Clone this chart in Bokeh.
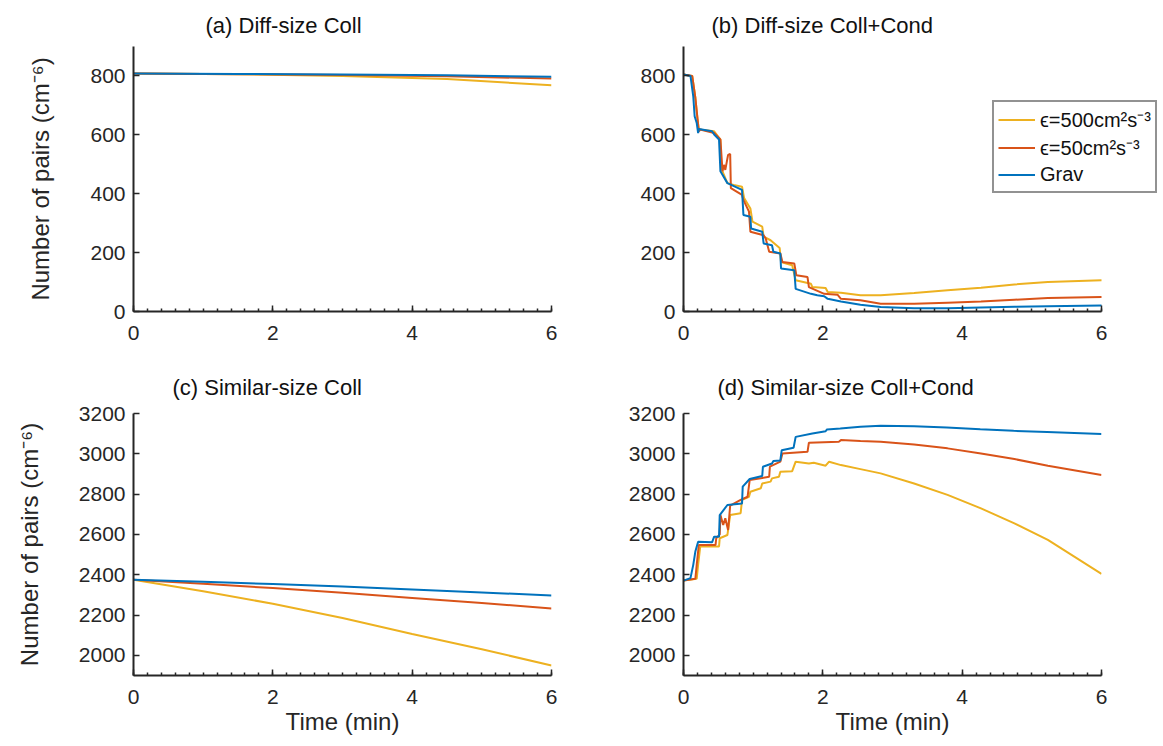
from bokeh.plotting import figure
from bokeh.layouts import column, row
from bokeh.models import Range1d, FixedTicker, Legend, LegendItem
from bokeh.embed import file_html
from bokeh.resources import INLINE

# ---------------- data ----------------
# (a) Diff-size Coll
a_t = [0, 1.5, 3, 4.5, 6]
a_e500 = [808, 806, 800, 790, 768]
a_e50 = [808, 806, 803, 799, 791]
a_grav = [808, 807, 805, 802, 797]

# (b) Diff-size Coll+Cond
b_e500_t = [0.0, 0.125, 0.17, 0.20, 0.22, 0.44, 0.53, 0.54, 0.63, 0.72, 0.84, 0.87, 0.96, 0.99, 1.13, 1.15, 1.25, 1.38,
            1.40, 1.56, 1.61, 1.83, 1.85, 2.04, 2.07, 2.26, 2.54, 2.83, 3.31, 3.79, 4.27, 4.75, 5.23, 6.0]
b_e500 = [805, 800, 726, 655, 618, 612, 584, 487, 436, 430, 424, 385, 350, 305, 288, 254, 242, 216,
          168, 157, 106, 94, 83, 80, 66, 64, 55, 55, 63, 72, 81, 92, 100, 106]
b_e50_t = [0.0, 0.125, 0.17, 0.20, 0.22, 0.24, 0.44, 0.53, 0.56, 0.58, 0.60, 0.64, 0.67, 0.68, 0.84, 0.86, 0.94, 0.96,
           1.15, 1.18, 1.23, 1.39, 1.42, 1.59, 1.62, 1.78, 1.80, 2.02, 2.21, 2.26, 2.54, 2.83, 3.31, 3.79, 4.27, 4.75,
           5.23, 6.0]
b_e50 = [805, 800, 726, 658, 612, 618, 606, 584, 476, 498, 481, 532, 535, 419, 396, 379, 339, 271,
         259, 248, 203, 197, 168, 163, 123, 117, 83, 60, 57, 43, 38, 26, 26, 30, 34, 40, 46, 49]
b_grav_t = [0.0, 0.10, 0.14, 0.16, 0.19, 0.21, 0.22, 0.41, 0.44, 0.51, 0.53, 0.63, 0.84, 0.86, 0.96, 0.97, 1.13, 1.15,
            1.27, 1.29, 1.39, 1.40, 1.59, 1.61, 1.83, 1.92, 2.02, 2.07, 2.26, 2.54, 2.83, 3.31, 3.79, 4.27, 4.75,
            5.23, 6.0]
b_grav = [805, 800, 731, 663, 640, 606, 620, 612, 601, 584, 476, 436, 413, 328, 322, 282, 271, 231,
          225, 203, 197, 146, 140, 77, 60, 55, 52, 43, 34, 23, 15, 11, 11, 14, 16, 18, 20]

# (c) Similar-size Coll
c_t = [0, 1, 2, 3, 4, 5, 6]
c_e500 = [2375, 2318, 2256, 2185, 2106, 2030, 1950]
c_e50 = [2375, 2355, 2334, 2310, 2285, 2260, 2233]
c_grav = [2375, 2365, 2354, 2341, 2327, 2312, 2297]

# (d) Similar-size Coll+Cond
d_e500_t = [0.0, 0.19, 0.21, 0.24, 0.51, 0.52, 0.63, 0.67, 0.82, 0.84, 0.94, 0.96, 1.11, 1.13, 1.25, 1.27, 1.37, 1.39,
            1.56, 1.61, 1.80, 1.87, 2.04, 2.09, 2.26, 2.54, 2.83, 3.31, 3.79, 4.27, 4.75, 5.23, 6.0]
d_e500 = [2371, 2380, 2450, 2540, 2540, 2581, 2597, 2696, 2705, 2771, 2787, 2812, 2829, 2853, 2862, 2878, 2886, 2911,
          2914, 2961, 2952, 2956, 2941, 2961, 2944, 2924, 2903, 2853, 2796, 2729, 2655, 2573, 2404]
d_e50_t = [0.0, 0.17, 0.19, 0.22, 0.46, 0.47, 0.52, 0.53, 0.57, 0.60, 0.64, 0.67, 0.82, 0.92, 0.95, 1.23, 1.24, 1.39,
           1.42, 1.78, 1.80, 2.23, 2.26, 2.54, 2.83, 3.31, 3.79, 4.27, 4.75, 5.23, 6.0]
d_e50 = [2371, 2380, 2450, 2548, 2548, 2581, 2600, 2696, 2647, 2680, 2622, 2743, 2771, 2787, 2870, 2886, 2936, 2961,
         3002, 3010, 3055, 3060, 3068, 3063, 3060, 3046, 3027, 3002, 2974, 2941, 2895]
d_grav_t = [0.0, 0.10, 0.14, 0.17, 0.21, 0.41, 0.44, 0.51, 0.52, 0.63, 0.84, 0.85, 0.95, 1.13, 1.14, 1.27, 1.29, 1.39,
            1.41, 1.58, 1.61, 1.85, 2.04, 2.06, 2.25, 2.54, 2.83, 3.31, 3.78, 4.26, 4.74, 5.22, 6.0]
d_grav = [2371, 2383, 2449, 2515, 2564, 2561, 2589, 2589, 2696, 2746, 2754, 2837, 2875, 2890, 2936, 2952, 2964, 2967,
          3018, 3030, 3084, 3101, 3112, 3121, 3126, 3134, 3139, 3137, 3131, 3122, 3114, 3108, 3098]

labels = ["\u03f5=500cm\u00b2s\u207b\u00b3", "\u03f5=50cm\u00b2s\u207b\u00b3", "Grav"]
colors = ["#EDB120", "#D95319", "#0072BD"]
x_ticks = [0, 2, 4, 6]
x_minor = [i * 0.2 for i in range(31)]
y_ticks_top = [0, 200, 400, 600, 800]
y_ticks_bot = [2000, 2200, 2400, 2600, 2800, 3000, 3200]

FONT = "Liberation Sans"
DARK = "#262626"
FW = 418          # width of the 0..6 span in px
FW_B = 474        # panel (b) frame is wider to hold the legend


def make(title, title_offset, yr, yticks, series, ylabel, xlabel, left, right, top, bottom, fh, fw, tstand):
    p = figure(output_backend="svg", toolbar_location=None,
               frame_width=fw, frame_height=fh,
               min_border_left=left, min_border_right=right,
               min_border_top=top, min_border_bottom=bottom,
               x_range=Range1d(0, 6.0 * fw / FW), y_range=Range1d(*yr))
    p.title.text = title
    p.title.align = "left"
    p.title.offset = title_offset
    p.title.text_font = FONT
    p.title.text_font_size = "22px"
    p.title.text_font_style = "normal"
    p.title.text_color = "#111111"
    p.title.standoff = tstand
    p.outline_line_color = None
    p.xgrid.visible = False
    p.ygrid.visible = False
    p.background_fill_color = "white"
    p.border_fill_color = "white"

    p.xaxis.ticker = FixedTicker(ticks=x_ticks, minor_ticks=x_minor)
    p.xaxis.bounds = (0, 6)
    p.yaxis.ticker = FixedTicker(ticks=yticks)
    for ax in (p.xaxis[0], p.yaxis[0]):
        ax.axis_line_color = DARK
        ax.axis_line_width = 2
        ax.major_tick_line_color = DARK
        ax.major_tick_line_width = 1.5
        ax.major_tick_in = 6
        ax.major_tick_out = 0
        ax.major_label_text_font = FONT
        ax.major_label_text_font_size = "21px"
        ax.major_label_text_color = DARK
        ax.axis_label_text_font = FONT
        ax.axis_label_text_font_size = "24px"
        ax.axis_label_text_font_style = "normal"
        ax.axis_label_text_color = DARK
    p.xaxis.minor_tick_line_color = DARK
    p.xaxis.minor_tick_line_width = 1.5
    p.xaxis.minor_tick_in = 3
    p.xaxis.minor_tick_out = 0
    p.yaxis.minor_tick_line_color = None
    p.xaxis.major_label_standoff = 14
    p.yaxis.major_label_standoff = 8
    if ylabel:
        p.yaxis.axis_label = ylabel
        p.yaxis.axis_label_standoff = 33
    if xlabel:
        p.xaxis.axis_label = xlabel
        p.xaxis.axis_label_standoff = 1

    rends = []
    for (t, v), c in zip(series, colors):
        rends.append(p.line(t, v, line_color=c, line_width=2))
    return p, rends


YL = "Number of pairs (cm\u207b\u2076)"
pa, _ = make("(a) Diff-size Coll", 72, (0, 900), y_ticks_top,
             [(a_t, a_e500), (a_t, a_e50), (a_t, a_grav)], YL, None, 133, 17, 46, 43, 265, FW, 17)
pb, rb = make("(b) Diff-size Coll+Cond", 28, (0, 900), y_ticks_top,
              [(b_e500_t, b_e500), (b_e50_t, b_e50), (b_grav_t, b_grav)], None, None, 115, 0, 46, 43, 265, FW_B, 17)
pc, _ = make("(c) Similar-size Coll", 39, (1900, 3200), y_ticks_bot,
             [(c_t, c_e500), (c_t, c_e50), (c_t, c_grav)], YL, "Time (min)", 133, 17, 59, 60, 262, FW, 28)
pd, _ = make("(d) Similar-size Coll+Cond", 34, (1900, 3200), y_ticks_bot,
             [(d_e500_t, d_e500), (d_e50_t, d_e50), (d_grav_t, d_grav)], None, "Time (min)", 115, 57, 59, 60, 262, FW, 28)

legend = Legend(items=[LegendItem(label=l, renderers=[r]) for l, r in zip(labels, rb)],
                location=(309, 118))
legend.label_text_font = FONT
legend.label_text_font_size = "20px"
legend.label_text_color = "#111111"
legend.label_height = 25
legend.glyph_height = 25
legend.glyph_width = 37
legend.label_standoff = 5
legend.spacing = 1
legend.padding = 4
legend.margin = 0
legend.border_line_color = DARK
legend.border_line_width = 2
legend.background_fill_color = "white"
legend.background_fill_alpha = 1
pb.add_layout(legend)

layout = column(row(pa, pb), row(pc, pd))
open("out.html", "w").write(file_html(layout, INLINE))
